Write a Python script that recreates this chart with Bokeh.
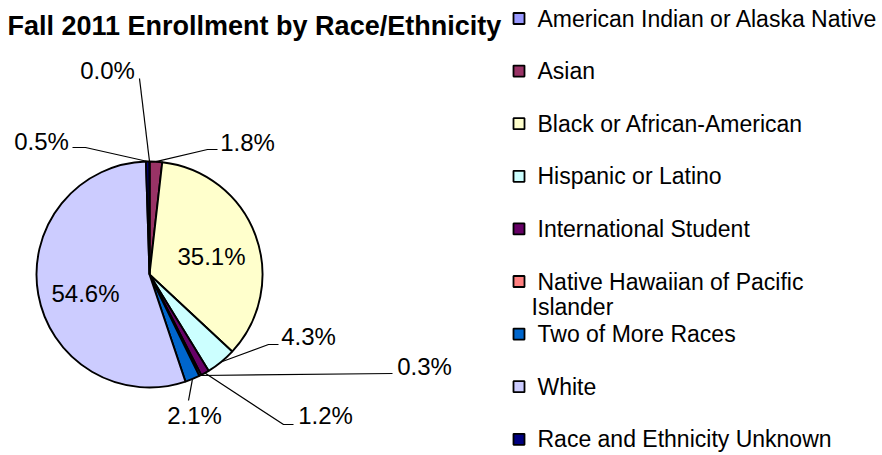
import numpy as np
from bokeh.plotting import figure
from bokeh.models import Range1d, ColumnDataSource
from bokeh.core.properties import value
from bokeh.embed import file_html
from bokeh.resources import INLINE

# ---------------- data ----------------
title = "Fall 2011 Enrollment by Race/Ethnicity"
categories = [
    "American Indian or Alaska Native",
    "Asian",
    "Black or African-American",
    "Hispanic or Latino",
    "International Student",
    "Native Hawaiian of Pacific Islander",
    "Two of More Races",
    "White",
    "Race and Ethnicity Unknown",
]
percents = [0.0, 1.8, 35.1, 4.3, 1.2, 0.3, 2.1, 54.6, 0.5]
colors = ["#9999FF", "#993366", "#FFFFCC", "#CCFFFF", "#660066",
          "#FF8080", "#0066CC", "#CCCCFF", "#000080"]

# ---------------- layout (page pixel coordinates) ----------------
W, H = 882, 455
cx, cy, R = 149, 274, 113
FONT = "Liberation Sans"
# label centres
label_pos = [(107, 70), (247, 142), (211, 256), (308, 336), (325, 415),
             (424, 366), (194, 415), (85, 293), (41, 141)]
# leader line bends (after the point on the pie edge); None = no leader
leader_pts = [[(139, 78)], [(207, 149), (217, 149)], None,
              [(268, 344), (278, 344)], [(283, 424), (293, 424)],
              [(392, 373)], [(188, 400)], None, [(85, 147), (72, 147)]]
legend_x, legend_top, legend_step = 518.5, 18, 52.6
legend_wrap = {"Native Hawaiian of Pacific Islander": ("Native Hawaiian of Pacific", "Islander")}

p = figure(width=W, height=H, output_backend="svg", toolbar_location=None,
           x_range=Range1d(0, W), y_range=Range1d(-H, 0),
           x_axis_location=None, y_axis_location=None, min_border=0)
p.grid.visible = False
p.outline_line_color = None
p.background_fill_color = "white"
p.border_fill_color = "white"

vals = np.array(percents, dtype=float)
total = vals.sum()
cum = np.concatenate([[0], np.cumsum(vals)]) / total
start = np.pi / 2 - 2 * np.pi * cum[:-1]
end = np.pi / 2 - 2 * np.pi * cum[1:]
mid = (start + end) / 2

keep = vals > 0
src = ColumnDataSource(dict(start=start[keep], end=end[keep],
                            color=[c for c, k in zip(colors, keep) if k]))
p.wedge(x=cx, y=-cy, radius=R, start_angle="start", end_angle="end",
        direction="clock", fill_color="color", line_color="black",
        line_width=1.9, source=src)
# zero-size slice boundary
for v, a in zip(vals, start):
    if v == 0:
        p.line([cx, cx + R * np.cos(a)], [-cy, -cy + R * np.sin(a)],
               line_color="black", line_width=1.9)

# leader lines
xs, ys = [], []
for i, pts in enumerate(leader_pts):
    if pts is None:
        continue
    ex = cx + R * np.cos(mid[i])
    ey = cy - R * np.sin(mid[i])
    xs.append([ex] + [q[0] for q in pts])
    ys.append([-ey] + [-q[1] for q in pts])
p.multi_line(xs, ys, line_color="black", line_width=1.2)

# data labels
p.text(x=[q[0] for q in label_pos], y=[-q[1] for q in label_pos],
       text=[f"{v:.1f}%" for v in percents], text_align="center",
       text_baseline="middle", text_font=value(FONT),
       text_font_size=value("24px"), text_color="black")

# title
p.text(x=[7], y=[-25], text=[title], text_align="left", text_baseline="middle",
       text_font=value(FONT), text_font_size=value("27px"),
       text_font_style="bold", text_color="black")

# legend
ly = [legend_top + legend_step * i for i in range(len(categories))]
p.scatter(x=[legend_x] * len(categories), y=[-v for v in ly], marker="square",
          size=11, fill_color=colors, line_color="black", line_width=1.8)
tx, ty, tt = [], [], []
for name, yy in zip(categories, ly):
    if name in legend_wrap:
        a, b = legend_wrap[name]
        tx += [537, 531]; ty += [-yy, -(yy + 25)]; tt += [a, b]
    else:
        tx.append(537); ty.append(-yy); tt.append(name)
p.text(x=tx, y=ty, text=tt, text_align="left", text_baseline="middle",
       text_font=value(FONT), text_font_size=value("23px"), text_color="black")

open("out.html", "w").write(file_html(p, INLINE))
